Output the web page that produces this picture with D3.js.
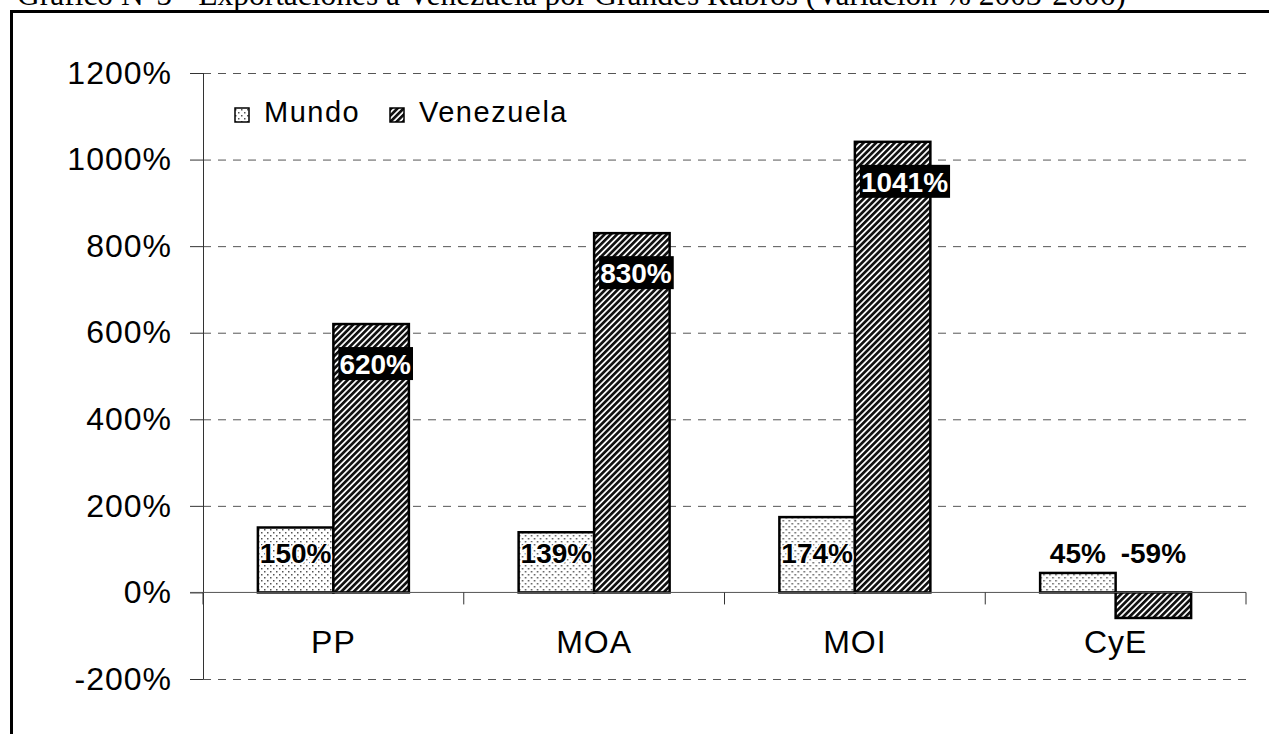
<!DOCTYPE html>
<html>
<head>
<meta charset="utf-8">
<script src="https://cdn.jsdelivr.net/npm/d3@7"></script>
<style>
  body { margin: 0; background: #fff; }
  svg { display: block; }
  text { font-family: "Liberation Sans", Arial, sans-serif; }
</style>
</head>
<body>
<div class="chart"></div>
<script>
var svgWidth = 1269;
var svgHeight = 734;

// data
var categories = ["PP", "MOA", "MOI", "CyE"];
var seriesNames = ["Mundo", "Venezuela"];
var mundo = [150, 139, 174, 45];
var venezuela = [620, 830, 1041, -59];
var yTicks = [-200, 0, 200, 400, 600, 800, 1000, 1200];
var title = "Gráfico N°5 - Exportaciones a Venezuela por Grandes Rubros (Variación % 2003-2006)";

var plot = { left: 203, right: 1246, top: 73, bottom: 679 };

var svg = d3.select(".chart")
  .append("svg")
  .attr("width", svgWidth)
  .attr("height", svgHeight);

// patterns
var defs = svg.append("defs");
var dots = defs.append("pattern")
  .attr("id", "dots")
  .attr("patternUnits", "userSpaceOnUse")
  .attr("width", 6)
  .attr("height", 6);
dots.append("rect").attr("width", 6).attr("height", 6).attr("fill", "#fff");
dots.append("rect").attr("x", 1).attr("y", 1).attr("width", 1.5).attr("height", 1.5).attr("fill", "#555");
dots.append("rect").attr("x", 4).attr("y", 4).attr("width", 1.5).attr("height", 1.5).attr("fill", "#555");

var hatch = defs.append("pattern")
  .attr("id", "hatch")
  .attr("patternUnits", "userSpaceOnUse")
  .attr("width", 4.4)
  .attr("height", 4.4)
  .attr("patternTransform", "rotate(45)");
hatch.append("rect").attr("width", 4.4).attr("height", 4.4).attr("fill", "#fff");
hatch.append("rect").attr("width", 2.7).attr("height", 4.4).attr("fill", "#111");

var fills = { Mundo: "url(#dots)", Venezuela: "url(#hatch)" };

// title (clipped at top like the source)
var titleText = svg.append("text")
  .attr("x", 17)
  .attr("y", 5)
  .style("font-family", "'Liberation Serif', 'Times New Roman', serif")
  .style("font-size", "28px")
  .attr("fill", "#000")
  .text(title);
var tw = titleText.node().getComputedTextLength();
titleText.style("font-size", (28 * 1109 / tw) + "px");

// frame
svg.append("path")
  .attr("d", `M11.5,${svgHeight} V11.5 H${svgWidth}`)
  .attr("fill", "none")
  .attr("stroke", "#000")
  .attr("stroke-width", 3);

// scales
var y = d3.scaleLinear()
  .domain([-200, 1200])
  .range([plot.bottom, plot.top]);

var x0 = d3.scaleBand()
  .domain(categories)
  .range([plot.left, plot.right])
  .paddingInner(0);

var x1 = d3.scaleBand()
  .domain(seriesNames)
  .range([0, x0.bandwidth()])
  .paddingInner(0)
  .paddingOuter(0.727);

// gridlines
var grid = svg.append("g")
  .attr("transform", `translate(${plot.left},0)`)
  .call(d3.axisLeft(y).tickValues(yTicks.filter(d => d !== 0)).tickSize(-(plot.right - plot.left)).tickFormat(""));
grid.select(".domain").remove();
grid.selectAll("line")
  .attr("stroke", "#555")
  .attr("stroke-dasharray", "8,7");

// y axis
var yAxis = svg.append("g")
  .attr("transform", `translate(${plot.left},0)`)
  .call(d3.axisLeft(y).tickValues(yTicks).tickSize(13).tickPadding(18).tickFormat(d => d + "%"));
yAxis.select(".domain").attr("stroke", "#333").attr("d", `M0.5,${plot.top}V${plot.bottom}`);
yAxis.selectAll("line").attr("stroke", "#333");
yAxis.selectAll("text")
  .style("font-size", "32px")
  .style("letter-spacing", "1px")
  .attr("fill", "#000");

// bars
var rows = categories.map((c, i) => ({ cat: c, values: [
  { name: "Mundo", value: mundo[i] },
  { name: "Venezuela", value: venezuela[i] }
]}));

var groups = svg.selectAll(".grp")
  .data(rows)
  .enter()
  .append("g")
  .attr("transform", d => `translate(${x0(d.cat)},0)`);

groups.selectAll("rect")
  .data(d => d.values)
  .enter()
  .append("rect")
  .attr("x", d => x1(d.name))
  .attr("y", d => y(Math.max(0, d.value)))
  .attr("width", x1.bandwidth())
  .attr("height", d => Math.abs(y(d.value) - y(0)))
  .attr("fill", d => fills[d.name])
  .attr("stroke", "#000")
  .attr("stroke-width", 2.5);

// x axis (zero line)
var xAxis = svg.append("g")
  .attr("transform", `translate(0,${y(0)})`);
xAxis.append("line")
  .attr("x1", plot.left - 13).attr("x2", plot.right)
  .attr("stroke", "#555");
xAxis.selectAll(".tk")
  .data(categories.concat(["end"]))
  .enter()
  .append("line")
  .attr("x1", (d, i) => i < categories.length ? x0(d) : plot.right)
  .attr("x2", (d, i) => i < categories.length ? x0(d) : plot.right)
  .attr("y1", 0).attr("y2", 12)
  .attr("stroke", "#333");
xAxis.selectAll(".cat")
  .data(categories)
  .enter()
  .append("text")
  .attr("x", d => x0(d) + x0.bandwidth() / 2)
  .attr("y", 61)
  .attr("text-anchor", "middle")
  .style("font-size", "32px")
  .style("letter-spacing", "1px")
  .text(d => d);

// value labels
groups.each(function(d) {
  var g = d3.select(this);
  d.values.forEach(function(v) {
    var bx = x1(v.name);
    var label = v.value + "%";
    if (v.name === "Venezuela" && v.value > 0) {
      var top = y(v.value) + 23;
      var t = g.append("text")
        .attr("x", bx + 6)
        .attr("y", top + 27)
        .style("font-size", "28px")
        .style("font-weight", "bold")
        .attr("fill", "#fff")
        .text(label);
      var w = t.node().getComputedTextLength();
      g.insert("rect", function() { return t.node(); })
        .attr("x", bx + 5)
        .attr("y", top)
        .attr("width", w + 3)
        .attr("height", 33)
        .attr("fill", "#000");
    } else {
      g.append("text")
        .attr("x", bx + x1.bandwidth() / 2)
        .attr("y", y(0) - 29)
        .attr("text-anchor", "middle")
        .style("font-size", "28px")
        .style("font-weight", "bold")
        .style("paint-order", "stroke")
        .attr("stroke", v.value > 60 ? "#fff" : "none")
        .attr("stroke-width", 3)
        .attr("fill", "#000")
        .text(label);
    }
  });
});

// legend
var legend = svg.append("g");
var legendX = [235, 390];
seriesNames.forEach(function(s, i) {
  legend.append("rect")
    .attr("x", legendX[i])
    .attr("y", 108)
    .attr("width", 14)
    .attr("height", 14)
    .attr("fill", fills[s])
    .attr("stroke", "#000")
    .attr("stroke-width", 1.5);
  legend.append("text")
    .attr("x", legendX[i] + 29)
    .attr("y", 122)
    .style("font-size", "29px")
    .style("letter-spacing", "1.5px")
    .text(s);
});
</script>
</body>
</html>
